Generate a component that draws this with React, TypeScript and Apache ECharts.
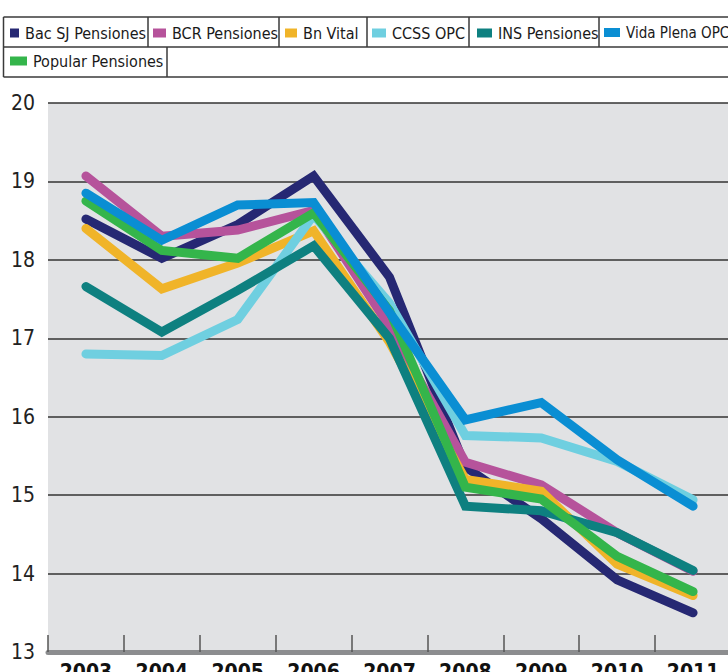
import React, { useEffect, useRef } from "react";
import * as echarts from "echarts";

const years = ["2003", "2004", "2005", "2006", "2007", "2008", "2009", "2010", "2011"];
const yTicks = [13, 14, 15, 16, 17, 18, 19, 20];

const bacSJ = [18.52, 18.02, 18.45, 19.07, 17.78, 15.36, 14.7, 13.92, 13.5];
const bcr = [19.07, 18.3, 18.38, 18.63, 17.15, 15.42, 15.13, 14.52, 14.03];
const bnVital = [18.4, 17.63, 17.96, 18.37, 16.95, 15.2, 15.05, 14.12, 13.72];
const ccss = [16.8, 16.78, 17.24, 18.57, 17.45, 15.76, 15.73, 15.43, 14.94];
const ins = [17.66, 17.08, 17.61, 18.18, 17.0, 14.86, 14.8, 14.52, 14.04];
const vidaPlena = [18.85, 18.25, 18.7, 18.73, 17.33, 15.96, 16.18, 15.45, 14.86];
const popular = [18.75, 18.12, 18.02, 18.6, 17.35, 15.1, 14.95, 14.22, 13.77];

const seriesDefs = [
  { name: "Bac SJ Pensiones", data: bacSJ, color: "#262873" },
  { name: "BCR Pensiones", data: bcr, color: "#b6539b" },
  { name: "Bn Vital", data: bnVital, color: "#f0b429" },
  { name: "CCSS OPC", data: ccss, color: "#6fcfe0" },
  { name: "INS Pensiones", data: ins, color: "#0e8080" },
  { name: "Popular Pensiones", data: popular, color: "#34b54b" },
  { name: "Vida Plena OPC", data: vidaPlena, color: "#0a8ed3" },
];

const legendOrder = [
  "Bac SJ Pensiones",
  "BCR Pensiones",
  "Bn Vital",
  "CCSS OPC",
  "INS Pensiones",
  "Vida Plena OPC",
  "Popular Pensiones",
];

const FONT = "'Liberation Sans Narrow', 'DejaVu Sans Condensed', Roboto, sans-serif";

export default function App() {
  const ref = useRef<HTMLDivElement>(null);
  useEffect(() => {
    document.body.style.margin = "0";
    const chart = echarts.init(ref.current!, null, { renderer: "svg" });

    const legendPos = [
      { left: 10, top: 25, w: 9, h: 9, fs: 16 },
      { left: 153, top: 25, w: 13, h: 9, fs: 16 },
      { left: 285, top: 25, w: 12, h: 9, fs: 16 },
      { left: 372, top: 25, w: 14, h: 9, fs: 16 },
      { left: 477, top: 25, w: 15, h: 9, fs: 16 },
      { left: 604, top: 25, w: 16, h: 9, fs: 15 },
      { left: 10, top: 53, w: 17, h: 9, fs: 16 },
    ];

    const legends = legendOrder.map((name, i) => ({
      data: [name],
      left: legendPos[i].left,
      top: legendPos[i].top,
      padding: 0,
      itemWidth: legendPos[i].w,
      itemHeight: legendPos[i].h,
      itemGap: 0,
      icon: "rect",
      selectedMode: false,
      textStyle: {
        fontFamily: FONT,
        fontSize: legendPos[i].fs,
        color: "#1a1a1a",
        padding: [0, 0, 0, 1],
      },
    }));

    const lineStyle = { stroke: "#3a3a3a", lineWidth: 1.5 };
    const graphics: any[] = [
      { type: "line", shape: { x1: 3.5, y1: 17, x2: 728, y2: 17 }, style: lineStyle },
      { type: "line", shape: { x1: 3.5, y1: 47, x2: 728, y2: 47 }, style: lineStyle },
      { type: "line", shape: { x1: 3.5, y1: 77, x2: 167, y2: 77 }, style: lineStyle },
      { type: "line", shape: { x1: 167, y1: 77, x2: 728, y2: 77 }, style: lineStyle },
      { type: "line", shape: { x1: 3.5, y1: 17, x2: 3.5, y2: 77 }, style: lineStyle },
      { type: "line", shape: { x1: 148, y1: 17, x2: 148, y2: 47 }, style: lineStyle },
      { type: "line", shape: { x1: 279, y1: 17, x2: 279, y2: 47 }, style: lineStyle },
      { type: "line", shape: { x1: 367, y1: 17, x2: 367, y2: 47 }, style: lineStyle },
      { type: "line", shape: { x1: 469, y1: 17, x2: 469, y2: 47 }, style: lineStyle },
      { type: "line", shape: { x1: 599, y1: 17, x2: 599, y2: 47 }, style: lineStyle },
      { type: "line", shape: { x1: 167, y1: 47, x2: 167, y2: 77 }, style: lineStyle },
    ];

    chart.setOption({
      animation: false,
      backgroundColor: "#ffffff",
      legend: legends,
      graphic: graphics,
      grid: {
        left: 48,
        right: -3,
        top: 103,
        bottom: 20,
        outerBoundsMode: "none",
        containLabel: false,
        show: true,
        backgroundColor: "#e1e2e4",
        borderWidth: 0,
      },
      xAxis: {
        type: "category",
        data: years,
        boundaryGap: true,
        axisLine: { show: true, lineStyle: { color: "#8c8d8f", width: 5 } },
        axisTick: {
          show: true,
          inside: true,
          length: 17,
          lineStyle: { color: "#555", width: 1.5 },
        },
        axisLabel: {
          fontFamily: FONT,
          fontSize: 21,
          fontWeight: "bold",
          color: "#111",
          margin: 9,
        },
        splitLine: { show: false },
      },
      yAxis: {
        type: "value",
        min: 13,
        max: 20,
        interval: 1,
        axisLine: { show: false },
        axisTick: { show: false },
        axisLabel: {
          fontFamily: FONT,
          fontSize: 21,
          color: "#222",
          margin: 13,
          formatter: (v: number) => (yTicks.includes(v) ? String(v) : ""),
        },
        splitLine: { show: true, lineStyle: { color: "#333", width: 1.5 } },
      },
      series: seriesDefs.map((s) => ({
        name: s.name,
        type: "line",
        data: s.data,
        symbol: "none",
        color: s.color,
        lineStyle: { color: s.color, width: 9, cap: "round", join: "miter" },
      })),
    });
    return () => chart.dispose();
  }, []);
  return (
    <div
      ref={ref}
      style={{ position: "absolute", left: 0, top: 0, width: 728, height: 672 }}
    />
  );
}
